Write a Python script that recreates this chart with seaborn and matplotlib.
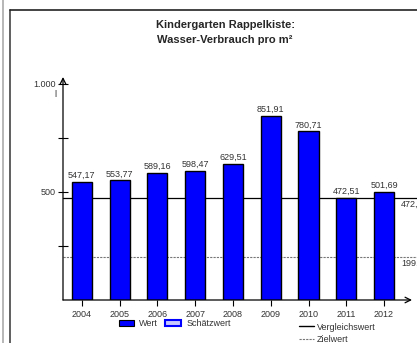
import matplotlib
matplotlib.use("Agg")
import matplotlib.pyplot as plt
import seaborn as sns
from matplotlib.lines import Line2D
from matplotlib.patches import Patch

years = ["2004", "2005", "2006", "2007", "2008", "2009", "2010", "2011", "2012"]
values = [547.17, 553.77, 589.16, 598.47, 629.51, 851.91, 780.71, 472.51, 501.69]
value_labels = ["547,17", "553,77", "589,16", "598,47", "629,51", "851,91", "780,71", "472,51", "501,69"]
vergleichswert = 472.51
zielwert = 199.0
y_ticks = [250, 500, 750, 1000]
y_ticklabels = ["", "500", "", "1.000"]

sns.set_style("white")
plt.rcParams["font.family"] = ["Liberation Sans", "DejaVu Sans"]

fig = plt.figure(figsize=(4.17, 3.43), dpi=100)
ax = fig.add_axes([63 / 417, 43 / 343, 349 / 417, 223 / 343])

sns.barplot(x=years, y=values, color="#0000ff", saturation=1, edgecolor="black",
            linewidth=1, width=0.53, ax=ax, zorder=3)

# reference lines (behind the bars)
ax.plot([0, 1.03], [vergleichswert, vergleichswert], color="black", lw=0.9,
        transform=ax.get_yaxis_transform(), clip_on=False, zorder=1)
ax.plot([0, 1.03], [zielwert, zielwert], color="#777777", lw=0.8, ls=(0, (2, 1)),
        transform=ax.get_yaxis_transform(), clip_on=False, zorder=1)
ax.text(0.968, vergleichswert - 10, "472,", transform=ax.get_yaxis_transform(),
        ha="left", va="top", fontsize=6.5, color="#333333", clip_on=False)
ax.text(0.968, zielwert - 10, "199,", transform=ax.get_yaxis_transform(),
        ha="left", va="top", fontsize=6.5, color="#333333", clip_on=False)

for i, (v, lab) in enumerate(zip(values, value_labels)):
    ax.text(i, v + 8, lab, ha="center", va="bottom", fontsize=6.5, color="#333333")

ax.set_xlim(-0.5, 8.74)
ax.set_ylim(0, 1032)
ax.set_yticks(y_ticks)
ax.set_yticklabels(y_ticklabels)
ax.set_xlabel("")
ax.set_ylabel("")
ax.tick_params(axis="y", direction="inout", length=7, width=0.8, labelsize=6.5,
               pad=2, colors="black", labelcolor="#333333", left=True)
ax.tick_params(axis="x", direction="out", length=4, width=0.8, labelsize=6.5,
               pad=3, colors="black", labelcolor="#333333", bottom=True)
ax.text(-0.02, 1000 - 50, "l", transform=ax.get_yaxis_transform(), ha="right",
        va="center", fontsize=6.5, color="#333333")

for s in ax.spines.values():
    s.set_visible(False)
ax.annotate("", xy=(0, 1.0), xytext=(0, 0), xycoords="axes fraction",
            arrowprops=dict(arrowstyle="->", lw=0.9, color="black",
                            shrinkA=0, shrinkB=0), annotation_clip=False)
ax.annotate("", xy=(1.0, 0), xytext=(0, 0), xycoords="axes fraction",
            arrowprops=dict(arrowstyle="->", lw=0.9, color="black",
                            shrinkA=0, shrinkB=0), annotation_clip=False)

# title
fig.text(0.54, 1 - 25 / 343, "Kindergarten Rappelkiste:", ha="center", va="center",
         fontsize=8, fontweight="bold")
fig.text(0.54, 1 - 40 / 343, "Wasser-Verbrauch pro m²", ha="center", va="center",
         fontsize=8, fontweight="bold")

# frame lines
fig.add_artist(Line2D([3 / 417, 3 / 417], [0, 1], color="#aaaaaa", lw=1.2))
fig.add_artist(Line2D([10 / 417, 10 / 417], [0, 1 - 10 / 343], color="#444444", lw=1.2))
fig.add_artist(Line2D([10 / 417, 1], [1 - 10 / 343, 1 - 10 / 343], color="#222222", lw=1.2))

# legends
h1 = [Patch(facecolor="#0000ff", edgecolor="black", lw=0.8),
      Patch(facecolor="#c8c8ff", edgecolor="#0000ff", lw=1.5)]
leg1 = fig.legend(h1, ["Wert", "Schätzwert"], loc="center left",
                  bbox_to_anchor=(114 / 417, 1 - 324 / 343), ncol=2, frameon=False,
                  fontsize=6.5, handlelength=1.7, handleheight=0.6,
                  columnspacing=0.8, handletextpad=0.6, borderpad=0)
for t in leg1.get_texts():
    t.set_color("#333333")
h2 = [Line2D([], [], color="black", lw=1),
      Line2D([], [], color="#777777", lw=0.8, ls=(0, (2, 1)))]
leg2 = fig.legend(h2, ["Vergleichswert", "Zielwert"], loc="upper left",
                  bbox_to_anchor=(294 / 417, 1 - 318 / 343), ncol=1, frameon=False,
                  fontsize=6.5, handlelength=1.7, handletextpad=0.3, labelspacing=0.35,
                  borderpad=0)
for t in leg2.get_texts():
    t.set_color("#333333")

fig.savefig("out.png", dpi=100)
